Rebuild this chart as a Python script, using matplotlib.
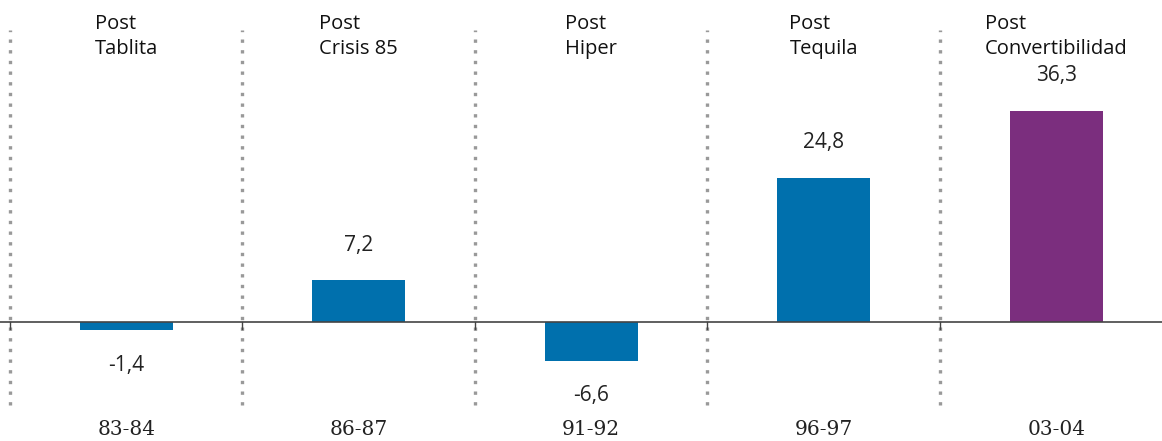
#!/usr/bin/env python3
"""Bar chart of post-crisis episodes (values by period)."""

import matplotlib

matplotlib.use("Agg")
import matplotlib.pyplot as plt
import numpy as np

periods = ["83-84", "86-87", "91-92", "96-97", "03-04"]
episodes = ["Post\nTablita", "Post\nCrisis 85", "Post\nHiper", "Post\nTequila", "Post\nConvertibilidad"]
values = [-1.4, 7.2, -6.6, 24.8, 36.3]
colors = ["#0070ad", "#0070ad", "#0070ad", "#0070ad", "#7b2e7e"]


def fmt(v: float) -> str:
    return f"{v:.1f}".replace(".", ",")


def main() -> None:
    fig = plt.figure(figsize=(11.62, 4.41), dpi=100)
    ax = fig.add_axes([0, 0, 1, 1])
    x = np.arange(len(values))

    ax.bar(x, values, width=0.4, color=colors, zorder=2)
    ax.axhline(0, color="#444444", linewidth=1.2, zorder=3)

    # dotted separators between episodes, with a small tick at the axis
    for sep in x - 0.5:
        ax.plot([sep, sep], [-14.3, 50.2], linestyle=(0, (1, 2.2)), color="#999999",
                linewidth=2.4, zorder=1)
        ax.plot([sep, sep], [-1.2, 0], color="#444444", linewidth=1.0, zorder=3)

    for xi, v in zip(x, values):
        off = 25 if v >= 0 else -25
        ax.annotate(fmt(v), (xi, v), xytext=(0, off), textcoords="offset points",
                    ha="center", va="center", fontsize=15, family="Open Sans",
                    color="#222222")

    for xi, ep in zip(x, episodes):
        ax.text(xi, 49.0, ep, ha="center", va="center", multialignment="left",
                fontsize=14.5, family="Open Sans", color="#111111", linespacing=1.3)

    for xi, p in zip(x, periods):
        ax.text(xi, -18.4, p, ha="center", va="center", fontsize=14.5,
                family="DejaVu Serif", color="#222222")

    ax.set_xlim(-0.543, 4.455)
    ax.set_ylim(-20.4, 55.3)
    ax.axis("off")
    fig.savefig("out.png", dpi=100)
    plt.close(fig)


if __name__ == "__main__":
    main()
